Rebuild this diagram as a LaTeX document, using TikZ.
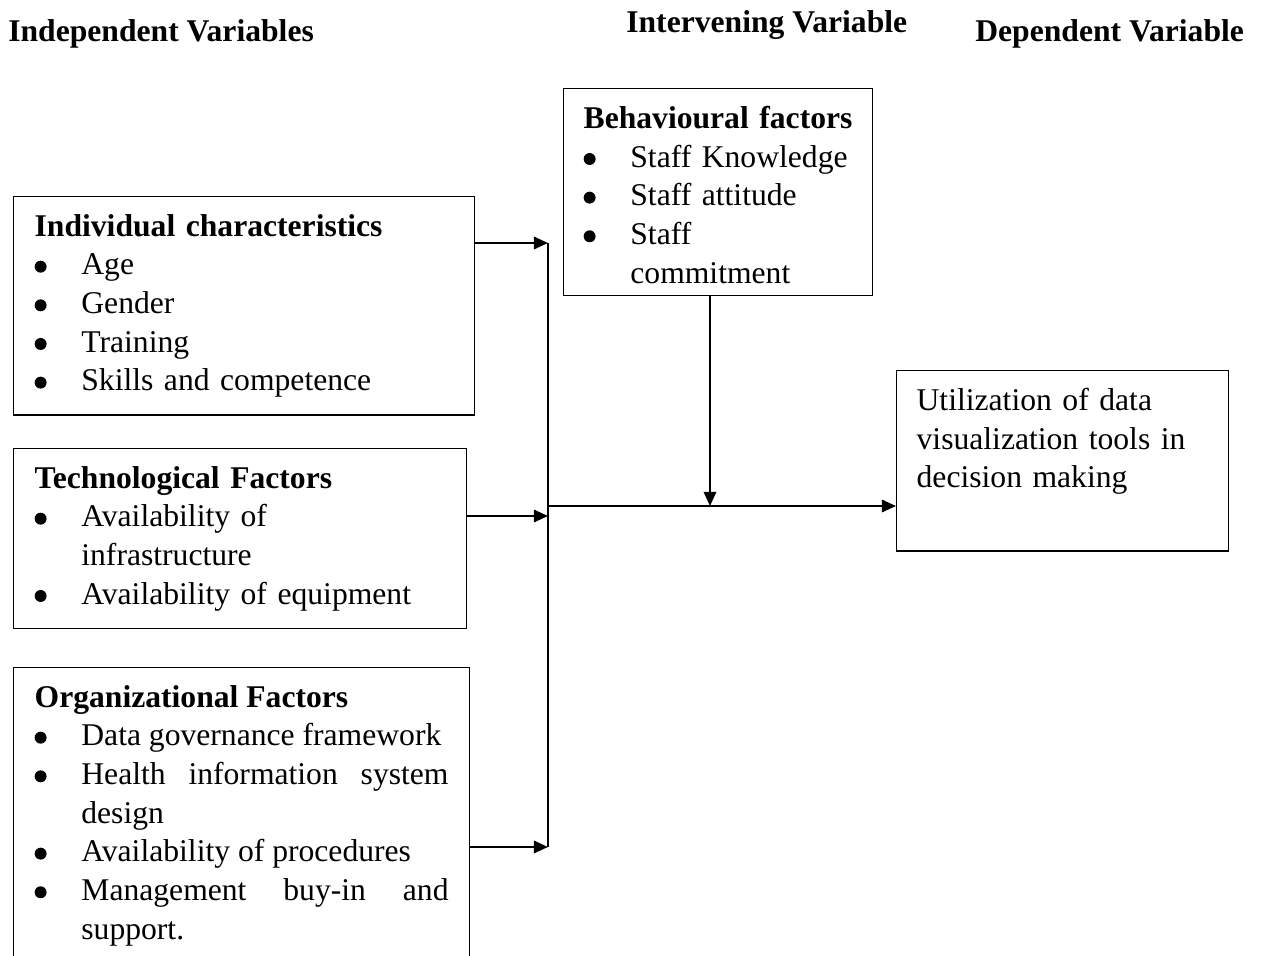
\documentclass[tikz,border=0pt]{standalone}
\usepackage{fontspec}
\setmainfont{Liberation Serif}
\usepackage{enumitem}
\usetikzlibrary{arrows.meta,positioning}

\newcommand{\dotmark}{\tikz[baseline=0pt]\fill (3.4pt,4.6pt) circle[radius=3.4pt];}

\setlist[itemize]{label=\dotmark, leftmargin=26.6pt, labelindent=0pt,
  labelwidth=26.6pt, labelsep=0pt, align=left,
  itemsep=0pt, topsep=0pt, parsep=0pt, partopsep=0pt}

\tikzset{
  hdr/.style={font=\fontsize{18}{22}\selectfont\bfseries, inner sep=0pt, anchor=base west},
  factorbox/.style={draw, line width=0.75pt, anchor=north west,
    inner xsep=0.42cm, inner ysep=0.35cm,
    font=\fontsize{18}{22}\selectfont},
  flow/.style={line width=1.3pt, -{Triangle[length=8pt,width=7pt]}},
  bar/.style={line width=0.8pt},
}

\begin{document}
\begin{tikzpicture}[x=0.02cm, y=-0.02cm]
\useasboundingbox (0,0) rectangle (1265,956);

% Headings
\node[hdr] (indep) at (8,42) {Independent Variables};
\node[hdr] (interv) at (626,33) {Intervening Variable};
\node[hdr] (dep) at (975,42) {Dependent Variable};

% Independent variables
\node[factorbox, text width=8.38cm] (ind) at (13,196) {\raggedright
  \textbf{Individual characteristics}
  \begin{itemize}
  \item Age
  \item Gender
  \item Training
  \item Skills and competence
  \end{itemize}};

\node[factorbox, text width=8.22cm] (tech) at (13,448) {\raggedright
  \textbf{Technological Factors}
  \begin{itemize}
  \item Availability of\newline infrastructure
  \item Availability of equipment
  \end{itemize}};

\node[factorbox, align=justify, text width=8.28cm] (org) at (13,667) {\hyphenpenalty=10000 \emergencystretch=3em
  \textbf{Organizational Factors}
  \begin{itemize}
  \item Data governance framework
  \item Health information system design
  \item Availability of procedures
  \item Management buy-in and support.
  \end{itemize}};

% Intervening variable
\node[factorbox, inner xsep=0.4cm, text width=5.38cm, text depth=85pt] (behav) at (563,88) {\raggedright
  \textbf{Behavioural factors}
  \begin{itemize}
  \item Staff Knowledge
  \item Staff attitude
  \item Staff\newline commitment
  \end{itemize}};

% Dependent variable
\node[factorbox, inner xsep=0.4cm, text width=5.84cm, text depth=70pt] (util) at (896,370) {\raggedright
  Utilization of data visualization tools in decision making};

% Connectors
\coordinate (jtop) at (548,243);
\coordinate (jtech) at (548,516);
\coordinate (jbot) at (548,847);
\coordinate (jmid) at (548,506);
\coordinate (jdown) at (710,506);

\draw[bar] (jtop) -- (jbot);
\draw[flow] (ind.east |- jtop) -- (jtop);
\draw[flow] (tech.east |- jtech) -- (jtech);
\draw[flow] (org.east |- jbot) -- (jbot);
\draw[flow] (behav.south -| jdown) -- (jdown);
\draw[flow] (jmid) -- (util.west |- jmid);

\end{tikzpicture}
\end{document}
